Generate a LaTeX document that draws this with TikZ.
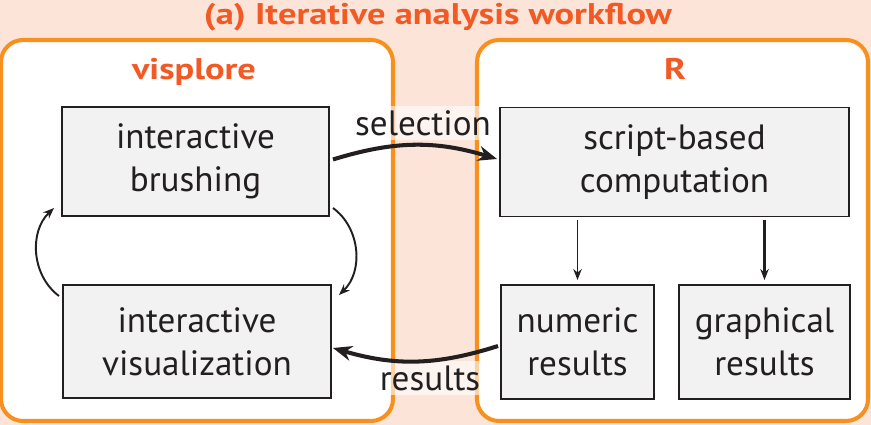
\documentclass[tikz,border=0pt]{standalone}
\usepackage{fontspec}
\setmainfont{PT Sans}
\newfontfamily\headfont{PT Sans}[FakeStretch=1.22]
\usetikzlibrary{calc,arrows.meta}
\definecolor{peach}{HTML}{FCE5D8}
\definecolor{panelorange}{HTML}{F7901E}
\definecolor{titleorange}{HTML}{F15A24}
\definecolor{boxgray}{HTML}{F2F2F2}
\definecolor{ink}{HTML}{231F20}
\tikzset{
    panel/.style={draw=panelorange, line width=2.3pt, fill=white, rounded corners=0.44cm},
    stagebox/.style={draw=ink, line width=1.1pt, fill=boxgray, inner sep=0pt, outer sep=0pt,
        align=center, text=ink, font=\fontsize{20}{24.5}\selectfont},
    paneltitle/.style={anchor=base, text=titleorange, font=\headfont\bfseries\fontsize{17}{20}\selectfont},
    flowlabel/.style={fill=white, fill opacity=0.6, text opacity=1, text=ink, inner sep=0pt,
        minimum height=0.7cm, minimum width=2.8cm, font=\fontsize{20}{24}\selectfont},
    bigarrow/.style={draw=ink, line width=2.3pt, -{Stealth[length=0.38cm,width=0.3cm]}},
    thinarrow/.style={draw=ink, line width=1.1pt, -{Stealth[length=0.22cm,width=0.17cm]}},
}
\begin{document}
\begin{tikzpicture}[x=0.02cm,y=-0.02cm]
\fill[peach] (0,0) rectangle (871,425);
\useasboundingbox (0,0) rectangle (871,425);
% two panels
\draw[panel] (1,40) rectangle (393,421);
\draw[panel] (477,40) rectangle (868,421);
\node[paneltitle] (title) at (438,25) {(a) Iterative analysis workflow};
\node[paneltitle] (visplore) at (194,80) {visplore};
\node[paneltitle] (rlang) at (675,80) {R};
% stages
\node[stagebox, minimum width=5.34cm, minimum height=2.18cm] (brush) at (195.5,161.5) {interactive\\brushing};
\node[stagebox, minimum width=5.36cm, minimum height=2.26cm] (vis) at (197,341.5) {interactive\\visualization};
\node[stagebox, minimum width=6.98cm, minimum height=2.18cm] (comp) at (674.5,162) {script-based\\computation};
\node[stagebox, minimum width=3.06cm, minimum height=2.28cm] (num) at (577.5,342) {numeric\\results};
\node[stagebox, minimum width=3.42cm, minimum height=2.28cm] (graph) at (764.5,342) {graphical\\results};
% exchange between the tools
\node[flowlabel] (sel) at (423,123) {selection};
\node[flowlabel, minimum width=2.2cm] (res) at (430,378) {results};
\draw[bigarrow] ($(brush.east)+(4,-2)$) to[bend left=17] ($(comp.west)+(-3,-3)$);
\draw[bigarrow] ($(num.west)+(-3,4)$) to[bend left=17] ($(vis.east)+(2,6.5)$);
% loop inside visplore
\draw[thinarrow] ($(vis.north west)+(-4,11)$) to[bend left=50] ($(brush.south west)+(-8,-8)$);
\draw[thinarrow] ($(brush.south east)+(4,-8)$) to[bend left=50] ($(vis.north east)+(8,10)$);
% outputs of R
\draw[thinarrow] ($(num.north |- comp.south)+(0,4)$) -- ($(num.north)+(0,-5)$);
\draw[thinarrow, line width=1.5pt] ($(graph.north |- comp.south)+(0,4)$) -- ($(graph.north)+(0,-5)$);
\end{tikzpicture}
\end{document}
